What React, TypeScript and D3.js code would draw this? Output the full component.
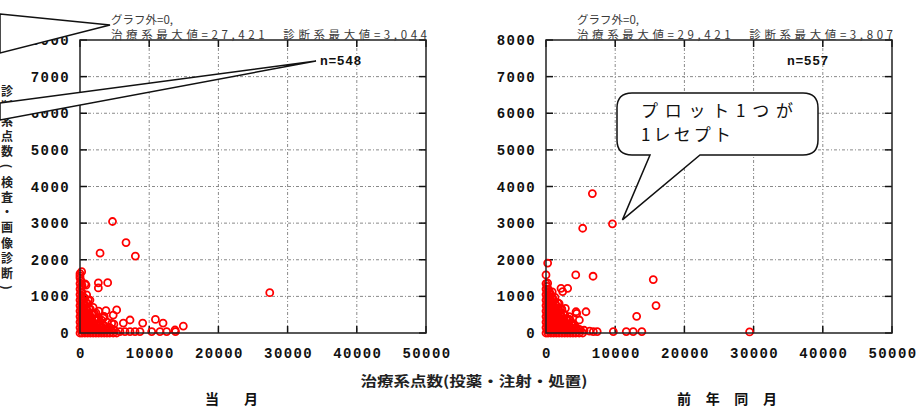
import * as d3 from "d3";

// axis ticks
const xTicks = [0, 10000, 20000, 30000, 40000, 50000];
const yTicks = [0, 1000, 2000, 3000, 4000, 5000, 6000, 7000, 8000];

const xTitle = "治療系点数(投薬・注射・処置)";
const yTitle = "診断系点数(検査・画像診断)";

const panelTitles = ["当　月", "前 年 同 月"];
const outsideTexts = ["グラフ外=0,", "グラフ外=0,"];
const maxTexts = [
  "治療系最大値=27,421　診断系最大値=3,044",
  "治療系最大値=29,421　診断系最大値=3,807",
];
const nTexts = ["n=548", "n=557"];

// 当月: [治療系, 診断系]
const currentPoints: [number, number][] = [
  [4700, 3044], [6650, 2470], [2900, 2180], [8000, 2100], [27421, 1100],
  [4000, 1375], [2650, 1370], [2650, 1230], [870, 1310], [1200, 900],
  [240, 1675], [0, 1557], [720, 1340], [960, 1040], [1440, 900],
  [5300, 630], [3750, 610], [4800, 490], [3370, 410], [7230, 355],
  [10900, 370], [12000, 270], [14930, 190], [9060, 270], [6260, 270],
  [4900, 240], [4580, 265], [13730, 82], [5780, 40], [6500, 40],
  [7230, 40], [7950, 40], [8670, 40], [10360, 40], [11560, 40],
  [12520, 40], [13800, 40],
  [0, 0], [0, 150], [0, 300], [0, 450], [0, 600], [0, 750], [0, 900],
  [0, 1050], [0, 1200], [0, 1350], [0, 1500], [0, 1620],
  [300, 0], [300, 150], [300, 300], [300, 450], [300, 600], [300, 750],
  [300, 900], [300, 1100], [300, 1300],
  [700, 0], [700, 150], [700, 300], [700, 450], [700, 600], [700, 750], [700, 950],
  [1100, 0], [1100, 150], [1100, 300], [1100, 450], [1100, 600], [1100, 800],
  [1500, 0], [1500, 150], [1500, 300], [1500, 450], [1500, 650],
  [1900, 0], [1900, 150], [1900, 300], [1900, 500], [1900, 700],
  [2300, 0], [2300, 150], [2300, 350], [2300, 550],
  [2700, 0], [2700, 200], [2700, 400], [2700, 600],
  [3100, 0], [3100, 150], [3100, 350],
  [3500, 0], [3500, 200], [3500, 450],
  [3900, 0], [3900, 100], [3900, 300],
  [4300, 0], [4300, 150], [4800, 0], [4800, 100], [5300, 0],
  [150, 75], [500, 75], [900, 75], [1300, 75], [1700, 75], [2100, 75], [2500, 75],
  [2900, 75], [3300, 75], [3700, 75], [4100, 75], [4500, 75], [5000, 75],
  [150, 225], [500, 225], [900, 225], [1300, 225], [1700, 225], [2100, 225],
  [2500, 225], [2900, 225], [3300, 225],
  [150, 375], [500, 375], [900, 375], [1300, 375], [1700, 375], [2100, 375], [2500, 375],
  [150, 525], [500, 525], [900, 525], [1300, 525], [1700, 525], [2100, 525],
  [150, 675], [500, 675], [900, 675], [1300, 675],
  [150, 825], [500, 825], [900, 825],
  [150, 975], [500, 975], [150, 1125], [150, 1275], [150, 1425],
];

// 前年同月
const previousPoints: [number, number][] = [
  [6700, 3807], [5300, 2860], [9600, 2980], [240, 1910], [0, 1585],
  [240, 1360], [4300, 1585], [6800, 1550], [2170, 1220], [3130, 1220],
  [2410, 1130], [15500, 1460], [15900, 750], [13100, 455], [2800, 675],
  [4340, 580], [5780, 580], [4430, 535], [3370, 445], [4820, 355],
  [3850, 265], [6300, 50], [6840, 40], [7400, 40], [9730, 40],
  [11600, 40], [12600, 40], [13850, 40], [29421, 30],
  [0, 0], [0, 150], [0, 300], [0, 450], [0, 600], [0, 750], [0, 900],
  [0, 1050], [0, 1200], [0, 1350],
  [300, 0], [300, 150], [300, 300], [300, 450], [300, 600], [300, 750],
  [300, 900], [300, 1050], [300, 1200],
  [700, 0], [700, 150], [700, 300], [700, 450], [700, 600], [700, 750],
  [700, 900], [700, 1050],
  [1100, 0], [1100, 150], [1100, 300], [1100, 450], [1100, 600], [1100, 750], [1100, 900],
  [1500, 0], [1500, 150], [1500, 300], [1500, 450], [1500, 600], [1500, 750],
  [1900, 0], [1900, 150], [1900, 300], [1900, 450], [1900, 600], [1900, 800],
  [2300, 0], [2300, 150], [2300, 300], [2300, 450], [2300, 650],
  [2700, 0], [2700, 150], [2700, 300], [2700, 500],
  [3100, 0], [3100, 150], [3100, 350],
  [3500, 0], [3500, 150], [3500, 350],
  [3900, 0], [3900, 200], [4300, 0], [4300, 150],
  [4800, 0], [4800, 100], [5300, 0],
  [150, 75], [500, 75], [900, 75], [1300, 75], [1700, 75], [2100, 75], [2500, 75],
  [2900, 75], [3300, 75], [3700, 75], [4100, 75], [4500, 75], [5000, 75], [5500, 75],
  [150, 225], [500, 225], [900, 225], [1300, 225], [1700, 225], [2100, 225],
  [2500, 225], [2900, 225], [3300, 225], [3700, 225], [4100, 225],
  [150, 375], [500, 375], [900, 375], [1300, 375], [1700, 375], [2100, 375],
  [2500, 375], [2900, 375], [3300, 375],
  [150, 525], [500, 525], [900, 525], [1300, 525], [1700, 525], [2100, 525], [2500, 525],
  [150, 675], [500, 675], [900, 675], [1300, 675], [1700, 675], [2100, 675],
  [150, 825], [500, 825], [900, 825], [1300, 825], [1700, 825],
  [150, 975], [500, 975], [900, 975], [1300, 975],
  [150, 1125], [500, 1125], [900, 1125], [150, 1275],
];

const tickFont = "'Liberation Mono', 'DejaVu Sans Mono', monospace";
const cjkFont = "'Noto Sans CJK JP', sans-serif";

const plotTop = 40;
const plotBottom = 333;
const plotWidth = 346;

const Panel = ({ left, points, index }) => {
  const x = d3.scaleLinear().domain([0, 50000]).range([left, left + plotWidth]);
  const y = d3.scaleLinear().domain([0, 8000]).range([plotBottom, plotTop]);
  const right = left + plotWidth;

  return (
    <g>
      {/* grid */}
      {xTicks.slice(1, -1).map((t) => (
        <line key={"gx" + t} x1={x(t)} x2={x(t)} y1={plotTop} y2={plotBottom}
          stroke="#8a8a8a" strokeDasharray="3,2,1,2" />
      ))}
      {yTicks.slice(1, -1).map((t) => (
        <line key={"gy" + t} x1={left} x2={right} y1={y(t)} y2={y(t)}
          stroke="#8a8a8a" strokeDasharray="3,2,1,2" />
      ))}
      {/* ticks, inward on every side */}
      {xTicks.map((t) => (
        <g key={"tx" + t} stroke="#111" strokeWidth={1.5}>
          <line x1={x(t)} x2={x(t)} y1={plotBottom} y2={plotBottom - 7} />
          <line x1={x(t)} x2={x(t)} y1={plotTop} y2={plotTop + 7} />
        </g>
      ))}
      {yTicks.map((t) => (
        <g key={"ty" + t} stroke="#111" strokeWidth={1.5}>
          <line x1={left} x2={left + 7} y1={y(t)} y2={y(t)} />
          <line x1={right} x2={right - 7} y1={y(t)} y2={y(t)} />
        </g>
      ))}
      {/* tick labels */}
      {yTicks.map((t) => (
        <text key={"ly" + t} x={left - 10} y={y(t) + 5} textAnchor="end"
          fontFamily={tickFont} fontWeight="bold" fontSize={14} letterSpacing={1.4}
          fill="#111">{t}</text>
      ))}
      {xTicks.map((t) => (
        <text key={"lx" + t} x={x(t) + 1} y={358} textAnchor="middle"
          fontFamily={tickFont} fontWeight="bold" fontSize={14} letterSpacing={1.4}
          fill="#111">{t}</text>
      ))}
      {/* points */}
      {points.map((p, i) => (
        <circle key={i} cx={x(p[0])} cy={y(p[1])} r={3.5}
          fill="none" stroke="#ff0000" strokeWidth={1.8} />
      ))}
      {/* frame */}
      <rect x={left} y={plotTop} width={plotWidth} height={plotBottom - plotTop}
        fill="none" stroke="#222" strokeWidth={1.5} />
      {/* annotations */}
      <text x={left + 31} y={24} fontFamily={cjkFont} fontSize={11.5} fill="#3a3a3a">
        {outsideTexts[index]}
      </text>
      <text x={left + 31} y={39} fontFamily={cjkFont} fontSize={11.5} fill="#3a3a3a"
        textLength={316} lengthAdjust="spacing">
        {maxTexts[index]}
      </text>
      <text x={index === 0 ? 320 : 787} y={65} fontFamily={tickFont} fontWeight="bold"
        fontSize={13} letterSpacing={0.6} fill="#111">{nTexts[index]}</text>
      <text x={index === 0 ? 205 : 677} y={404} fontFamily={cjkFont}
        fontWeight="bold" fontSize={14} fill="#111"
        textLength={index === 0 ? 53 : 100} lengthAdjust="spacing">{panelTitles[index]}</text>
    </g>
  );
};

export default function App() {
  const xR = d3.scaleLinear().domain([0, 50000]).range([546, 546 + plotWidth]);
  const yR = d3.scaleLinear().domain([0, 8000]).range([plotBottom, plotTop]);
  const tipX = xR(previousPoints[2][0]) + 10;
  const tipY = yR(previousPoints[2][1]) - 4;
  const bubble =
    `M632,93 L803,93 Q818,93 818,108 L818,140 Q818,155 803,155 L700,155 ` +
    `L${tipX},${tipY} L650,155 L632,155 Q617,155 617,140 L617,108 Q617,93 632,93 Z`;

  return (
    <svg width={924} height={408} style={{ position: "absolute", left: 0, top: 0, background: "#fff" }}>
      <rect width={924} height={408} fill="#fff" />
      <Panel left={80} points={currentPoints} index={0} />
      <Panel left={546} points={previousPoints} index={1} />

      <text x={474} y={386} textAnchor="middle" fontFamily={cjkFont} fontWeight="bold"
        fontSize={14} fill="#222" textLength={227} lengthAdjust="spacingAndGlyphs">
        {xTitle}
      </text>

      {Array.from(yTitle).map((c, i) => (
        <text key={i} x={7} y={90 + i * 15.2} textAnchor="middle" dominantBaseline="central"
          fontFamily={cjkFont} fontWeight="bold" fontSize={12} fill="#222"
          transform={c === "(" || c === ")" ? `rotate(90 7 ${90 + i * 15.2})` : undefined}>
          {c}
        </text>
      ))}

      {/* callout tails from bubbles that lie off the canvas */}
      <polygon points="0,14 110,25 0,53" fill="#fff" stroke="#111" strokeWidth={1.5} />
      <polygon points="0,103 316,61 0,120" fill="#fff" stroke="#111" strokeWidth={1.5} />

      <path d={bubble} fill="#fff" stroke="#111" strokeWidth={1.5} />
      <text x={641} y={117} fontFamily={cjkFont} fontSize={17} fill="#111"
        textLength={152} lengthAdjust="spacing">プロット1つが</text>
      <text x={641} y={141} fontFamily={cjkFont} fontSize={17} fill="#111"
        textLength={90} lengthAdjust="spacing">1レセプト</text>
    </svg>
  );
}
